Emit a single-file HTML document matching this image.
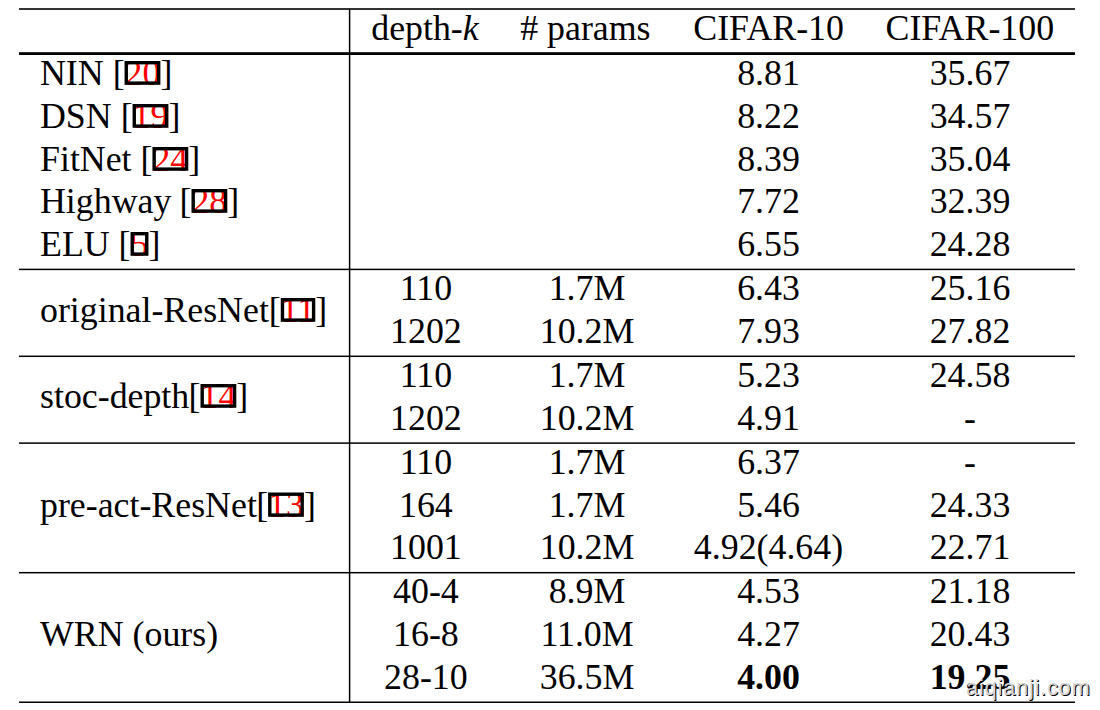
<!DOCTYPE html><html><head><meta charset="utf-8"><style>html,body{margin:0;padding:0;background:#fff;width:1100px;height:710px;overflow:hidden}svg{display:block}text{font-family:"Liberation Serif",serif;font-size:36.50px;fill:#000}</style></head><body>
<svg width="1100" height="710" viewBox="0 0 1100 710">
<rect x="19" y="8" width="1056" height="2" fill="#333"/>
<rect x="19" y="52.2" width="1056" height="2.8" fill="#000"/>
<rect x="19" y="268.65" width="1056" height="1.5" fill="#000"/>
<rect x="19" y="355.55" width="1056" height="1.5" fill="#000"/>
<rect x="19" y="442.35" width="1056" height="1.5" fill="#000"/>
<rect x="19" y="571.95" width="1056" height="1.5" fill="#000"/>
<rect x="19" y="701.50" width="1056" height="1.5" fill="#000"/>
<rect x="348.85" y="9" width="1.5" height="694" fill="#000"/>
<text transform="translate(425.00 40.00) scale(0.982 1)" text-anchor="middle">depth-<tspan font-style="italic">k</tspan></text>
<text transform="translate(585.40 40.00) scale(0.982 1)" text-anchor="middle"># params</text>
<text transform="translate(768.60 40.00) scale(0.982 1)" text-anchor="middle">CIFAR-10</text>
<text transform="translate(969.80 40.00) scale(0.982 1)" text-anchor="middle">CIFAR-100</text>
<text transform="translate(768.50 85.00) scale(0.982 1)" text-anchor="middle">8.81</text>
<text transform="translate(970.00 85.00) scale(0.982 1)" text-anchor="middle">35.67</text>
<text transform="translate(768.50 128.00) scale(0.982 1)" text-anchor="middle">8.22</text>
<text transform="translate(970.00 128.00) scale(0.982 1)" text-anchor="middle">34.57</text>
<text transform="translate(768.50 171.00) scale(0.982 1)" text-anchor="middle">8.39</text>
<text transform="translate(970.00 171.00) scale(0.982 1)" text-anchor="middle">35.04</text>
<text transform="translate(768.50 213.00) scale(0.982 1)" text-anchor="middle">7.72</text>
<text transform="translate(970.00 213.00) scale(0.982 1)" text-anchor="middle">32.39</text>
<text transform="translate(768.50 256.00) scale(0.982 1)" text-anchor="middle">6.55</text>
<text transform="translate(970.00 256.00) scale(0.982 1)" text-anchor="middle">24.28</text>
<text transform="translate(425.90 300.00) scale(0.982 1)" text-anchor="middle">110</text>
<text transform="translate(587.00 300.00) scale(0.982 1)" text-anchor="middle">1.7M</text>
<text transform="translate(768.50 300.00) scale(0.982 1)" text-anchor="middle">6.43</text>
<text transform="translate(970.00 300.00) scale(0.982 1)" text-anchor="middle">25.16</text>
<text transform="translate(425.90 343.00) scale(0.982 1)" text-anchor="middle">1202</text>
<text transform="translate(587.00 343.00) scale(0.982 1)" text-anchor="middle">10.2M</text>
<text transform="translate(768.50 343.00) scale(0.982 1)" text-anchor="middle">7.93</text>
<text transform="translate(970.00 343.00) scale(0.982 1)" text-anchor="middle">27.82</text>
<text transform="translate(425.90 387.00) scale(0.982 1)" text-anchor="middle">110</text>
<text transform="translate(587.00 387.00) scale(0.982 1)" text-anchor="middle">1.7M</text>
<text transform="translate(768.50 387.00) scale(0.982 1)" text-anchor="middle">5.23</text>
<text transform="translate(970.00 387.00) scale(0.982 1)" text-anchor="middle">24.58</text>
<text transform="translate(425.90 430.00) scale(0.982 1)" text-anchor="middle">1202</text>
<text transform="translate(587.00 430.00) scale(0.982 1)" text-anchor="middle">10.2M</text>
<text transform="translate(768.50 430.00) scale(0.982 1)" text-anchor="middle">4.91</text>
<text transform="translate(970.00 430.00) scale(0.982 1)" text-anchor="middle">-</text>
<text transform="translate(425.90 474.00) scale(0.982 1)" text-anchor="middle">110</text>
<text transform="translate(587.00 474.00) scale(0.982 1)" text-anchor="middle">1.7M</text>
<text transform="translate(768.50 474.00) scale(0.982 1)" text-anchor="middle">6.37</text>
<text transform="translate(970.00 474.00) scale(0.982 1)" text-anchor="middle">-</text>
<text transform="translate(425.90 517.00) scale(0.982 1)" text-anchor="middle">164</text>
<text transform="translate(587.00 517.00) scale(0.982 1)" text-anchor="middle">1.7M</text>
<text transform="translate(768.50 517.00) scale(0.982 1)" text-anchor="middle">5.46</text>
<text transform="translate(970.00 517.00) scale(0.982 1)" text-anchor="middle">24.33</text>
<text transform="translate(425.90 559.00) scale(0.982 1)" text-anchor="middle">1001</text>
<text transform="translate(587.00 559.00) scale(0.982 1)" text-anchor="middle">10.2M</text>
<text transform="translate(768.50 559.00) scale(0.982 1)" text-anchor="middle">4.92(4.64)</text>
<text transform="translate(970.00 559.00) scale(0.982 1)" text-anchor="middle">22.71</text>
<text transform="translate(425.90 603.00) scale(0.982 1)" text-anchor="middle">40-4</text>
<text transform="translate(587.00 603.00) scale(0.982 1)" text-anchor="middle">8.9M</text>
<text transform="translate(768.50 603.00) scale(0.982 1)" text-anchor="middle">4.53</text>
<text transform="translate(970.00 603.00) scale(0.982 1)" text-anchor="middle">21.18</text>
<text transform="translate(425.90 646.00) scale(0.982 1)" text-anchor="middle">16-8</text>
<text transform="translate(587.00 646.00) scale(0.982 1)" text-anchor="middle">11.0M</text>
<text transform="translate(768.50 646.00) scale(0.982 1)" text-anchor="middle">4.27</text>
<text transform="translate(970.00 646.00) scale(0.982 1)" text-anchor="middle">20.43</text>
<text transform="translate(425.90 689.00) scale(0.982 1)" text-anchor="middle">28-10</text>
<text transform="translate(587.00 689.00) scale(0.982 1)" text-anchor="middle">36.5M</text>
<text transform="translate(768.50 689.00) scale(0.982 1)" text-anchor="middle" font-weight="bold">4.00</text>
<text transform="translate(970.00 689.00) scale(0.982 1)" text-anchor="middle" font-weight="bold">19.25</text>
<text transform="translate(40.00 85.00) scale(0.982 1)">NIN [<tspan style="fill:#f00">20</tspan>]</text>
<text transform="translate(40.00 128.00) scale(0.982 1)">DSN [<tspan style="fill:#f00">19</tspan>]</text>
<text transform="translate(40.00 171.00) scale(0.982 1)">FitNet [<tspan style="fill:#f00">24</tspan>]</text>
<text transform="translate(40.00 213.00) scale(0.982 1)">Highway <tspan dx="-0.8">[</tspan><tspan style="fill:#f00">28</tspan>]</text>
<text transform="translate(40.00 256.00) scale(0.982 1)">ELU [<tspan style="fill:#f00">5</tspan>]</text>
<text transform="translate(40.00 322.00) scale(0.982 1)">original-ResNet[<tspan style="fill:#f00">11</tspan>]</text>
<text transform="translate(40.00 408.00) scale(0.982 1)">stoc-depth<tspan dx="-0.7">[</tspan><tspan style="fill:#f00">14</tspan>]</text>
<text transform="translate(40.00 517.00) scale(0.982 1)">pre-act-ResNet<tspan dx="-0.7">[</tspan><tspan style="fill:#f00">13</tspan>]</text>
<text transform="translate(40.00 646.00) scale(0.982 1)">WRN (ours)</text>
<rect x="126.27" y="62.70" width="32.42" height="20.40" fill="none" stroke="#000" stroke-width="3.40"/>
<rect x="134.27" y="105.70" width="32.43" height="20.40" fill="none" stroke="#000" stroke-width="3.40"/>
<rect x="154.15" y="148.70" width="32.43" height="20.40" fill="none" stroke="#000" stroke-width="3.40"/>
<rect x="193.20" y="190.70" width="32.40" height="20.40" fill="none" stroke="#000" stroke-width="3.40"/>
<rect x="132.24" y="233.70" width="14.51" height="20.40" fill="none" stroke="#000" stroke-width="3.40"/>
<rect x="282.47" y="299.70" width="31.11" height="20.40" fill="none" stroke="#000" stroke-width="3.40"/>
<rect x="202.20" y="385.70" width="32.40" height="20.40" fill="none" stroke="#000" stroke-width="3.40"/>
<rect x="269.80" y="494.20" width="32.40" height="20.90" fill="none" stroke="#000" stroke-width="3.40"/>
<g style="font-family:'Liberation Sans',sans-serif;font-size:23.5px">
<text x="967.0" y="696.0" style="font-family:'Liberation Sans',sans-serif;font-size:22px;letter-spacing:0.7px;fill:#000">aiqianji.com</text>
<text x="966.0" y="695.2" style="font-family:'Liberation Sans',sans-serif;font-size:22px;letter-spacing:0.7px;fill:#d4d4d4">aiqianji.com</text>
</g>
</svg></body></html>
